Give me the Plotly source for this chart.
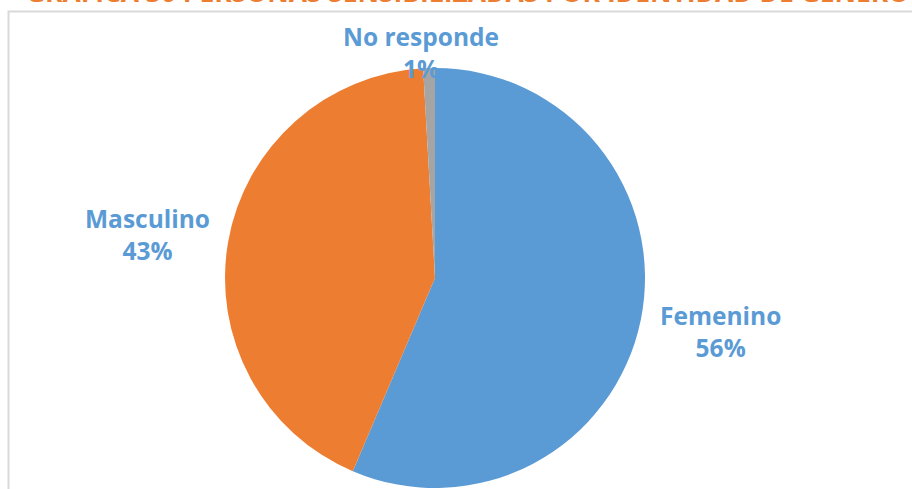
import plotly.graph_objects as go

categories = ["Femenino", "Masculino", "No responde"]
values = [56.4, 42.7, 0.9]
colors = ["#5B9BD5", "#ED7D31", "#A5A5A5"]
title_text = "GRAFICA 30 PERSONAS SENSIBILIZADAS POR IDENTIDAD DE GENERO"

W, H = 912, 489
total = sum(values)

fig = go.Figure(go.Pie(
    labels=categories,
    values=values,
    sort=False,
    direction="clockwise",
    rotation=0,
    marker=dict(colors=colors, line=dict(width=0)),
    textinfo="none",
    hoverinfo="label+percent",
    showlegend=False,
    domain=dict(x=[225 / W, 645 / W], y=[1 - 488 / H, 1 - 68 / H]),
))

label_pos = {
    "Femenino": (720, 331),
    "Masculino": (147, 234),
    "No responde": (421, 53),
}
font_lbl = dict(family="Open Sans, Liberation Sans, sans-serif", size=24.5, color="#5B9BD5")
for cat, v in zip(categories, values):
    px, py = label_pos[cat]
    fig.add_annotation(
        x=px / W, y=1 - py / H, xref="paper", yref="paper",
        text=f"<b>{cat}</b><br><b>{round(100 * v / total)}%</b>",
        showarrow=False, font=font_lbl, align="center",
        xanchor="center", yanchor="middle",
    )

fig.add_annotation(
    x=467 / W, y=1 + 8 / H, xref="paper", yref="paper",
    text=f"<b>{title_text}</b>", showarrow=False,
    font=dict(family="Open Sans, Liberation Sans, sans-serif", size=26.4, color="#ED7D31"),
    xanchor="center", yanchor="middle",
)

fig.add_shape(type="rect", xref="paper", yref="paper",
              x0=8.5 / W, x1=1.02, y0=-0.02, y1=1 - 11.5 / H,
              line=dict(color="#D9D9D9", width=2), layer="below")

fig.update_layout(
    width=W, height=H,
    margin=dict(l=0, r=0, t=0, b=0),
    paper_bgcolor="white", plot_bgcolor="white",
)

fig.write_html("out.html", config={"displayModeBar": False},
               post_script="document.body.style.margin='0';")
